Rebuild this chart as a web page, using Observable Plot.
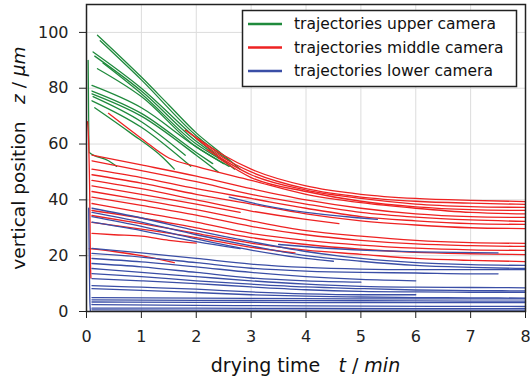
<!DOCTYPE html>
<html>
<head>
<meta charset="utf-8">
<script src="https://cdn.jsdelivr.net/npm/d3@7"></script>
<script src="https://cdn.jsdelivr.net/npm/@observablehq/plot@0.6"></script>
<style>
  html, body { margin: 0; padding: 0; background: white; }
  svg text { white-space: pre; }
</style>
</head>
<body>
<div id="chart"></div>
<script>
// ---- data: each track is a flat list t0,z0,t1,z1,... (t in min, z in µm)
const upperTracks = [
  [0.2,99, 1,84, 1.5,74, 2,64, 2.5,56, 2.8,51],
  [0.25,97, 1,83, 2,63, 2.6,54],
  [0.12,93, 1,80, 2,62, 2.7,51],
  [0.15,91.5, 1,79, 2,61, 2.5,54],
  [0.3,89, 1,78, 2,60, 2.4,55],
  [0.2,87, 1,77, 2,59, 2.6,52],
  [0.1,81, 1,73, 2,59, 2.5,53],
  [0.1,79, 1,71, 2,57, 2.3,53],
  [0.1,78, 1,70, 2,56, 2.4,50],
  [0.12,77, 1,68, 1.8,56],
  [0.1,75.5, 1,66, 1.9,52],
  [0.15,73, 0.8,64, 1.4,55, 1.6,51],
  [0.03,90, 0.05,57, 0.4,54, 0.55,52]
];
const middleTracks = [
  [1.8,65, 2.5,56, 3,51, 4,45, 5,42, 6,40.5, 7,39.8, 8,39.4],
  [2.0,62, 2.5,55, 3,50, 4,44, 5,41, 6,39.5, 7,38.8, 8,38.4],
  [2.2,58, 3,49, 4,43.5, 5,40.5, 6,38.5, 7,37.6, 8,37.3],
  [2.4,55, 3,48, 4,43, 5,39.5, 6,37.5, 7,36.5, 8,36.2],
  [0.4,71, 1,62, 1.5,55, 2,52, 3,47, 4,42, 5,39, 6,37, 7,35.5, 8,35],
  [0.1,56, 1,52.5, 2,48.5, 3,44, 4,40, 5,37, 6,35, 7,34, 8,33.7],
  [0.1,54, 1,50.5, 2,46.5, 3,42, 4,38.5, 5,35.5, 6,33.8, 7,32.8, 8,32.3],
  [0.1,51, 1,48, 2,44, 3,40.5, 4,37, 5,34, 6,32.5, 7,31.5, 8,31.2],
  [0.1,49, 1,46, 2,42, 3,38.5, 4,35, 5,32.5, 6,31, 7,30, 8,29.7],
  [0.1,47, 1,44, 2,40, 3,36, 4,33, 4.6,31.5],
  [0.1,45, 1,42, 2,38.5, 2.8,35.5],
  [0.1,43, 1,40, 2,36.5, 3,32.5, 4,29, 5,27, 6,25.5, 7,24.7, 8,24.4],
  [0.1,41, 1,38, 2,34.5, 3,30.5, 4,27.5, 5,25.5, 6,24.2, 7,23.6, 8,23.3],
  [0.1,38.7, 1,35.5, 2,32, 3,28, 4,25.5, 5,23.8, 6,22.7, 7,22.1, 8,21.9],
  [0.1,36.2, 1,33.5, 2,30, 3,26.5, 4,24, 5,22.3, 6,21.2, 7,20.7, 8,20.4],
  [0.1,34.4, 1,31.5, 2,28, 3,24.5, 4,22, 5,20.5, 6,19, 7,18.3, 8,17.9],
  [0.1,31.9, 1,29.5, 2,26.5, 3,23, 3.8,21],
  [0.1,28, 0.5,27.5, 1,27, 1.5,25.5, 2,24.5],
  [0.05,22.5, 0.5,21.5, 1,20, 1.6,17.5],
  [0.02,68, 0.04,60, 0.06,40, 0.07,20, 0.08,12]
];
const lowerTracks = [
  [0.1,37, 1,33.5, 2,29, 3,25, 4,21.5, 5,19, 6,17.5, 7,16.8, 8,16.5],
  [0.1,35.5, 1,32, 2,27.5, 3,23.5, 4,20, 5,18, 6,16.5, 7,15.8, 8,15.4],
  [0.1,34, 1,30.5, 2,26, 3,22, 4,19, 4.5,18],
  [0.1,32, 1,29, 2,25, 2.8,22.5],
  [2.6,41, 3,39, 4,35.5, 5,33.5, 5.3,33],
  [3.5,24, 5,22, 7.5,21],
  [0.1,22.6, 1,21, 2,19, 3,17, 4,15.8, 5,15.2, 6,15, 7,15, 8,15],
  [0.1,20.8, 1,19.5, 2,17.5, 3,15.5, 4,14.5, 5,14, 6,13.8, 7,13.5, 7.5,13.5],
  [0.1,19, 1,17.8, 2,16, 3,14, 4,12.5, 5,11.5, 6,11],
  [0.1,17.2, 1,16, 2,14, 3,12, 4,11, 5,10.5],
  [0.1,15.4, 1,14, 2,12.5, 3,11, 4,9.8, 5,9, 6,8.7, 7,8.6, 8,8.5],
  [0.1,13.6, 1,12.5, 2,11, 3,9.8, 4,8.8, 5,8.2, 6,7.7, 7,7.5, 8,7.4],
  [0.1,11.8, 1,11, 2,10, 3,8.8, 4,7.8, 5,7.2, 6,7, 7,6.9, 8,6.9],
  [0.1,9.3, 1,8.7, 2,8, 3,7, 4,6.3, 5,6, 6,6],
  [0.1,8.2, 1,7.6, 2,6.8, 3,6, 4,5.5, 5,5.2, 6,5, 7,4.9, 8,4.8],
  [0.1,5, 2,4.8, 4,4.6, 6,4.5, 8,4.5],
  [0.1,4.2, 2,4, 4,3.9, 6,3.8, 8,3.7],
  [0.1,3.4, 2,3.3, 4,3.2, 8,3.2],
  [0.1,2.5, 2,2.2, 4,2, 8,1.8],
  [0.1,1.2, 2,1.2, 4,1.1, 8,1.0],
  [0.1,0.6, 2,0.5, 8,0.5],
  [0.04,37, 0.05,20, 0.06,5, 0.07,0.3]
];
const seriesNames = ["trajectories upper camera", "trajectories middle camera", "trajectories lower camera"];
const seriesColors = ["#1f8a3c", "#ee2222", "#3a4ea6"];
const xTicks = [0, 1, 2, 3, 4, 5, 6, 7, 8];
const yTicks = [0, 20, 40, 60, 80, 100];

// ---- build rows
function toRows(tracks, prefix) {
  const rows = [];
  tracks.forEach((tr, k) => {
    for (let i = 0; i < tr.length; i += 2) rows.push({id: prefix + k, t: tr[i], z: tr[i + 1]});
  });
  return rows;
}
const groups = [toRows(upperTracks, "u"), toRows(middleTracks, "m"), toRows(lowerTracks, "l")];

const chart = Plot.plot({
  width: 530,
  height: 379,
  marginLeft: 86,
  marginRight: 5,
  marginTop: 4,
  marginBottom: 68,
  style: {fontFamily: "DejaVu Sans", fontSize: "16px", color: "#222", background: "white"},
  x: {domain: [0, 8], ticks: xTicks},
  y: {domain: [0, 110], ticks: yTicks},
  marks: [
    Plot.gridX(xTicks, {stroke: "#dcdcdc", strokeOpacity: 1, strokeWidth: 1}),
    Plot.gridY(yTicks, {stroke: "#dcdcdc", strokeOpacity: 1, strokeWidth: 1}),
    ...groups.map((rows, i) => Plot.line(rows, {x: "t", y: "z", z: "id", stroke: seriesColors[i], strokeWidth: 1.3, curve: "monotone-x"})),
    Plot.frame({stroke: "#222", strokeWidth: 1.5}),
    Plot.axisX({ticks: xTicks, tickSize: 7, tickPadding: 12, label: null, fontSize: 16, stroke: "#222"}),
    Plot.axisY({ticks: yTicks, tickSize: 7, tickPadding: 11, label: null, fontSize: 16, stroke: "#222"})
  ]
});
document.getElementById("chart").appendChild(chart);

// ---- axis labels with italic math parts
const svg = d3.select(chart);
const xl = svg.append("text")
  .attr("x", 305.5).attr("y", 372)
  .attr("text-anchor", "middle")
  .attr("font-family", "DejaVu Sans").attr("font-size", 19).attr("fill", "#111");
xl.append("tspan").text("drying time   ");
xl.append("tspan").attr("font-style", "italic").text("t");
xl.append("tspan").text(" / ");
xl.append("tspan").attr("font-style", "italic").text("min");

const yl = svg.append("text")
  .attr("transform", "translate(25,158) rotate(-90)")
  .attr("text-anchor", "middle")
  .attr("font-family", "DejaVu Sans").attr("font-size", 18.5).attr("fill", "#111");
yl.append("tspan").text("vertical position   ");
yl.append("tspan").attr("font-style", "italic").text("z");
yl.append("tspan").text(" / ");
yl.append("tspan").attr("font-style", "italic").text("μm");

// ---- legend inside the plot (upper right)
const lg = svg.append("g").attr("text-anchor", "start");
lg.append("rect").attr("x", 242.5).attr("y", 10.5).attr("width", 274).attr("height", 76)
  .attr("fill", "white").attr("stroke", "#222").attr("stroke-width", 1.5);
seriesNames.forEach((name, i) => {
  const y = 24 + i * 23.5;
  lg.append("line").attr("x1", 248).attr("x2", 282).attr("y1", y).attr("y2", y)
    .attr("stroke", seriesColors[i]).attr("stroke-width", 2.5);
  lg.append("text").attr("x", 294).attr("y", y).attr("dy", "0.35em")
    .attr("text-anchor", "start")
    .attr("font-family", "DejaVu Sans").attr("font-size", 15.5).attr("fill", "#111")
    .text(name);
});
</script>
</body>
</html>
